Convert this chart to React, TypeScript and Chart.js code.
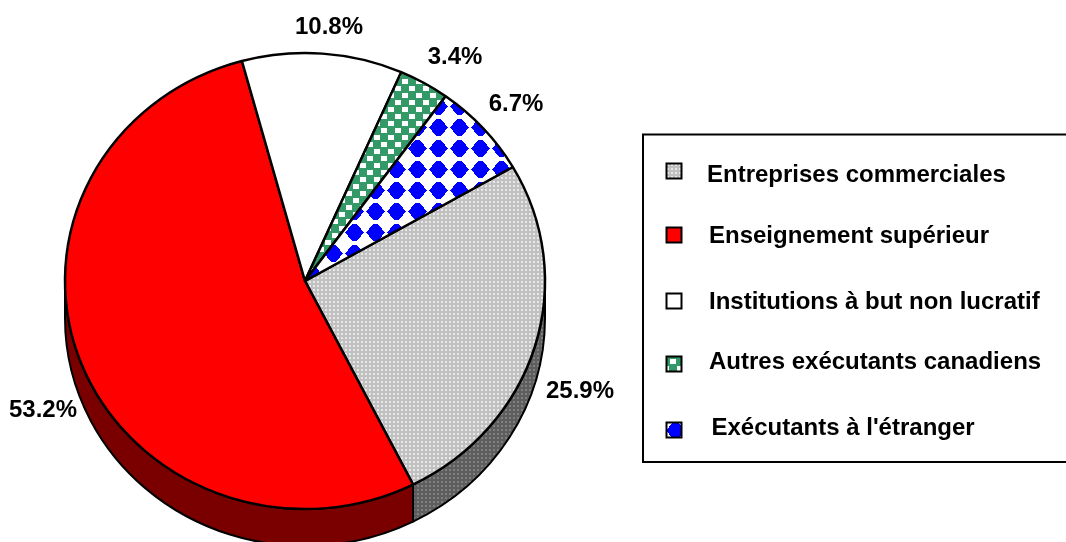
import React, { useEffect, useRef } from "react";
import { Chart, registerables } from "chart.js";

Chart.register(...registerables);

const categories = [
  "Entreprises commerciales",
  "Enseignement supérieur",
  "Institutions à but non lucratif",
  "Autres exécutants canadiens",
  "Exécutants à l'étranger",
];
const shares = [25.9, 53.2, 10.8, 3.4, 6.7];

const FONT = "bold 24px 'Liberation Sans', Arial, sans-serif";
const W = 1066;
const H = 542;
const CX = 305;
const CY = 281;
const RX = 240;
const RY = 228;
const K = RY / RX;
const DEPTH = 37;

function tile(w: number, h: number, paint: (c: CanvasRenderingContext2D) => void) {
  const cv = document.createElement("canvas");
  cv.width = w;
  cv.height = h;
  paint(cv.getContext("2d")!);
  return cv;
}

const checker = (base: string, light: string) =>
  tile(4, 4, (c) => {
    c.fillStyle = base;
    c.fillRect(0, 0, 4, 4);
    c.fillStyle = light;
    c.fillRect(1, 1, 2, 2);
  });

const greenTile = () =>
  tile(14, 14, (c) => {
    c.fillStyle = "#339966";
    c.fillRect(0, 0, 14, 14);
    c.fillStyle = "#ffffff";
    c.fillRect(0, 0, 6, 5);
    c.fillRect(7, 7, 6, 5);
  });

const blueTile = () =>
  tile(21, 21, (c) => {
    c.fillStyle = "#ffffff";
    c.fillRect(0, 0, 21, 21);
    c.fillStyle = "#0000ff";
    const halfWidths = [9, 8, 7, 6, 6, 5, 4, 3, 2];
    halfWidths.forEach((hw, dy) => {
      c.fillRect(10 - hw, 10 + dy, hw * 2 + 1, 1);
      c.fillRect(10 - hw, 10 - dy, hw * 2 + 1, 1);
    });
  });

function piePattern(ctx: CanvasRenderingContext2D, cv: HTMLCanvasElement, tx = 0, ty = 0) {
  const p = ctx.createPattern(cv, "repeat")!;
  // cancels the vertical squash of the pie so that the tiles stay crisp
  p.setTransform(new DOMMatrix([1, 0, 0, 1 / K, tx, CY + (ty - CY) / K]));
  return p;
}

function flatPattern(ctx: CanvasRenderingContext2D, cv: HTMLCanvasElement, tx = 0, ty = 0) {
  const p = ctx.createPattern(cv, "repeat")!;
  p.setTransform(new DOMMatrix([1, 0, 0, 1, tx, ty]));
  return p;
}

const squash = (ctx: CanvasRenderingContext2D) => {
  ctx.translate(0, CY);
  ctx.scale(1, K);
  ctx.translate(0, -CY);
};

export default function App() {
  const ref = useRef<HTMLCanvasElement>(null);

  useEffect(() => {
    const canvas = ref.current!;
    const ctx = canvas.getContext("2d")!;

    const fills = [
      piePattern(ctx, checker("#c0c0c0", "#e8e8e8")),
      "#ff0000",
      "#ffffff",
      piePattern(ctx, greenTile(), 3, 2),
      piePattern(ctx, blueTile(), 428, 117),
    ];
    const sides = [
      flatPattern(ctx, checker("#5e5e5e", "#808080")),
      "#7a0000",
      "#7f7f7f",
      "#1a4d33",
      "#00007f",
    ];
    const swatches = [
      flatPattern(ctx, checker("#c0c0c0", "#e8e8e8"), 666, 163),
      "#ff0000",
      "#ffffff",
      flatPattern(ctx, greenTile(), 670, 359),
      flatPattern(ctx, blueTile(), 665, 420),
    ];

    // Layout of the texts and swatches, which sit at uneven places in the reference.
    const valueLabelAt = [
      [580, 391],
      [43, 410],
      [329, 27],
      [455, 57],
      [516, 104],
    ];
    const legendRows = [
      { box: [666.5, 163.5], x: 707, base: 182 },
      { box: [666.5, 227.5], x: 709, base: 243 },
      { box: [666.5, 293.5], x: 709, base: 309 },
      { box: [666.5, 356.5], x: 709, base: 369 },
      { box: [666.5, 422.5], x: 711.5, base: 435 },
    ];
    const SWATCH = 15;

    const pie3d = {
      id: "pie3d",
      beforeDatasetsDraw(chart: Chart) {
        const c = chart.ctx;
        const arcs = chart.getDatasetMeta(0).data as any[];
        arcs.forEach((arc, i) => {
          for (const shift of [0, Math.PI * 2, -Math.PI * 2]) {
            const a = Math.max(arc.startAngle + shift, 0);
            const b = Math.min(arc.endAngle + shift, Math.PI);
            if (b <= a) continue;
            c.save();
            c.beginPath();
            c.ellipse(CX, CY + DEPTH, RX, RY, 0, a, b);
            c.ellipse(CX, CY, RX, RY, 0, b, a, true);
            c.closePath();
            c.fillStyle = sides[i] as any;
            c.fill();
            c.lineWidth = 2;
            c.strokeStyle = "#000";
            c.lineJoin = "round";
            c.stroke();
            c.restore();
          }
        });
      },
      beforeDatasetDraw(chart: Chart) {
        chart.ctx.save();
        squash(chart.ctx);
      },
      afterDatasetDraw(chart: Chart) {
        chart.ctx.restore();
      },
      afterDraw(chart: Chart) {
        const c = chart.ctx;
        c.save();
        c.font = FONT;
        c.fillStyle = "#000";
        c.textAlign = "center";
        c.textBaseline = "middle";
        shares.forEach((v, i) => {
          c.fillText(`${v.toFixed(1)}%`, valueLabelAt[i][0], valueLabelAt[i][1]);
        });

        // legend frame, open at the right-hand page edge
        c.strokeStyle = "#000";
        c.lineWidth = 2;
        c.beginPath();
        c.moveTo(W, 134.5);
        c.lineTo(643, 134.5);
        c.lineTo(643, 462);
        c.lineTo(W, 462);
        c.stroke();

        c.textAlign = "left";
        c.textBaseline = "alphabetic";
        categories.forEach((name, i) => {
          const row = legendRows[i];
          c.fillStyle = swatches[i] as any;
          c.fillRect(row.box[0], row.box[1], SWATCH, SWATCH);
          c.lineWidth = 2;
          c.strokeStyle = "#000";
          c.strokeRect(row.box[0], row.box[1], SWATCH, SWATCH);
          c.fillStyle = "#000";
          c.fillText(name, row.x, row.base);
        });
        c.restore();
      },
    };

    const chart = new Chart(ctx, {
      type: "pie",
      data: {
        labels: categories,
        datasets: [
          {
            data: shares,
            backgroundColor: fills as any,
            borderColor: "#000000",
            borderWidth: 2.5,
            clip: false as any,
          },
        ],
      },
      options: {
        responsive: false,
        animation: false,
        rotation: 60,
        radius: RX,
        layout: {
          padding: {
            left: CX - RX,
            right: W - CX - RX,
            top: CY - RX,
            bottom: H - CY - RX,
          },
        },
        plugins: {
          legend: { display: false },
          title: { display: false },
          tooltip: { enabled: false },
        },
      },
      plugins: [pie3d],
    });

    return () => chart.destroy();
  }, []);

  return (
    <canvas
      ref={ref}
      width={W}
      height={H}
      style={{ position: "absolute", left: 0, top: 0, display: "block" }}
    />
  );
}
